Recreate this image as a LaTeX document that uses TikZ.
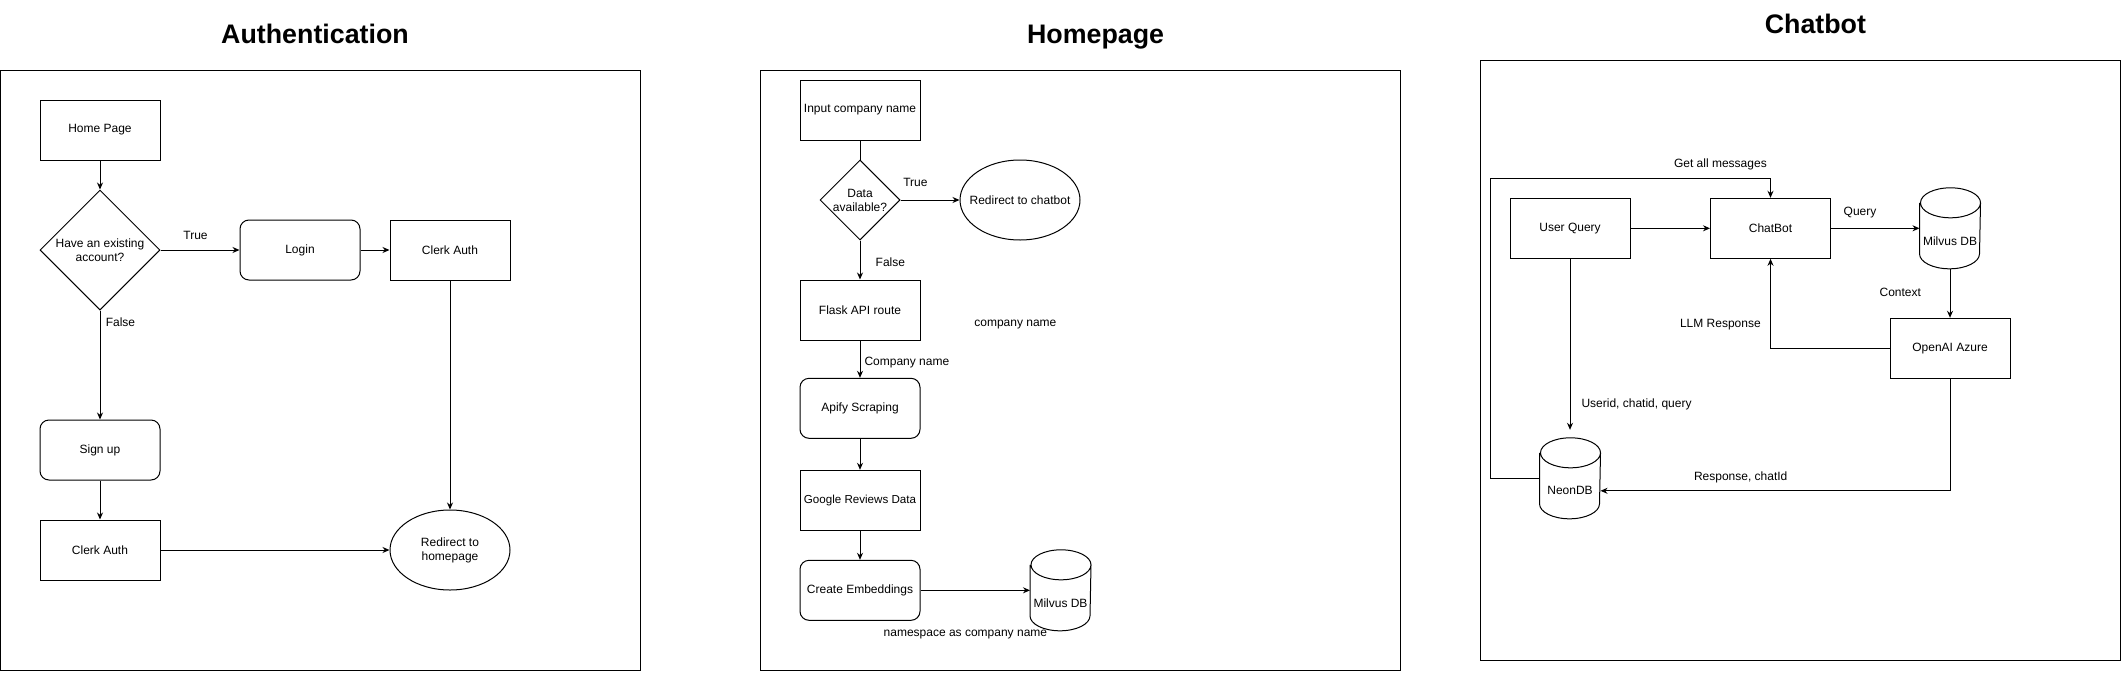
\documentclass[tikz,border=0pt]{standalone}
\usepackage{fontspec}
\setmainfont{Liberation Sans}
\usetikzlibrary{arrows.meta,shapes.geometric}
\newcommand\mydbcyl[3]{%
  \node[draw=none, rectangle, minimum width=60pt, minimum height=80pt, inner sep=0pt] (#1) at (#2) {};
  \draw ([yshift=-15pt]#1.north west) -- ([yshift=15pt]#1.south west)
    arc[start angle=180,end angle=360,x radius=30pt,y radius=15pt]
    -- ([yshift=-15pt]#1.north east)
    arc[start angle=0,end angle=180,x radius=30pt,y radius=15pt]
    arc[start angle=180,end angle=360,x radius=30pt,y radius=15pt];
  \node[inner sep=0pt] (#1T) at ([yshift=-12.5pt]#1.center) {#3};
}
\begin{document}
\begin{tikzpicture}[x=1pt,y=-1pt,line width=1pt,
  font=\fontsize{12}{14}\selectfont,
  box/.style={draw, rectangle, minimum width=120pt, minimum height=60pt, inner sep=0pt, align=center},
  rbox/.style={box, rounded corners=9pt},
  dia/.style={draw, diamond, inner sep=0pt, minimum width=#1, minimum height=#1},
  ell/.style={draw, ellipse, inner sep=0pt, minimum width=120pt, minimum height=80pt},
  arr/.style={-{Stealth[length=7pt,width=6pt]}},
  lbl/.style={inner sep=0pt},
  ttl/.style={font=\fontsize{26.8}{32}\selectfont\bfseries, anchor=base},
  panel/.style={draw, rectangle, inner sep=0pt}]
\useasboundingbox (0,0) rectangle (2122,672);

% ---------------- Authentication ----------------
\node[ttl] (tauth) at (315,43.3) {Authentication};
\node[panel, minimum width=640.1pt, minimum height=600pt] (authpanel) at (320.55,370) {};

\node[box] (home) at (100,130) {Home Page};
\node[dia=120pt, label={[align=center]center:{Have an existing\\account?}}] (acct) at (100,250) {};
\node[rbox] (login) at (300,250) {Login};
\node[box] (clerk1) at (450,250) {Clerk Auth};
\node[rbox] (signup) at (100,450) {Sign up};
\node[box] (clerk2) at (100,550) {Clerk Auth};
\node[ell, label={[align=center]center:{Redirect to\\homepage}}] (redir1) at (450,550) {};

\draw[arr] (home.south) -- (acct.north);
\draw[arr] (acct.east) -- (login.west);
\draw[arr] (login.east) -- (clerk1.west);
\draw[arr] (acct.south) -- (signup.north);
\draw[arr] (signup.south) -- (clerk2.north);
\draw[arr] (clerk2.east) -- (redir1.west);
\draw[arr] (clerk1.south) -- (redir1.north);

\node[lbl] (ltrue1) at (195.5,235) {True};
\node[lbl] (lfalse1) at (120.5,322.7) {False};

% ---------------- Homepage ----------------
\node[ttl] (thome) at (1095.6,43.3) {Homepage};
\node[panel, minimum width=640.7pt, minimum height=600pt] (homepanel) at (1080.35,370) {};

\node[box] (inp) at (860,110) {Input company name};
\node[dia=80pt, label={[align=center]center:{Data\\available?}}] (data) at (860,200) {};
\node[ell, label=center:{Redirect to chatbot}] (redir2) at (1020,200) {};
\node[box] (flask) at (860,310) {Flask API route};
\node[rbox] (apify) at (860,408.3) {Apify Scraping};
\node[box] (google) at (860,500.3) {\fontsize{11.6}{14}\selectfont Google Reviews Data};
\node[rbox] (embed) at (860,590.3) {Create Embeddings};
\mydbcyl{milvusa}{1060.5,590.3}{Milvus DB}

\draw (inp.south) -- (data.north);
\draw[arr] (data.east) -- (redir2.west);
\draw[arr] (data.south) -- (flask.north);
\draw[arr] (flask.south) -- (apify.north);
\draw[arr] (apify.south) -- (google.north);
\draw[arr] (google.south) -- (embed.north);
\draw[arr] (embed.east) -- (milvusa.west);

\node[lbl] (ltrue2) at (915.4,182.7) {True};
\node[lbl] (lfalse2) at (890.4,262.7) {False};
\node[lbl] (lcn) at (1015.4,325) {company name};
\node[lbl, anchor=west] (lcn2) at (864,362.7) {Company name};
\node[lbl] (lns) at (965.4,635) {namespace as company name};

% ---------------- Chatbot ----------------
\node[ttl] (tchat) at (1815.4,33.3) {Chatbot};
\node[panel, minimum width=640.3pt, minimum height=600pt] (chatpanel) at (1800.45,360.3) {};

\node[box] (uq) at (1570,228.3) {User Query};
\node[box] (cb) at (1770.5,228.3) {ChatBot};
\mydbcyl{milvusb}{1950,228.3}{Milvus DB}
\node[box] (oa) at (1950,348.3) {OpenAI Azure};
\mydbcyl{neon}{1570,478.3}{NeonDB}

\coordinate (loopA) at (1490.4,178.3);
\draw[arr] (neon.west) -| (loopA) -| (cb.north);
\draw[arr] (uq.east) -- (cb.west);
\draw[arr] (cb.east) -- (milvusb.west);
\draw[arr] (milvusb.south) -- (oa.north);
\draw[arr] (oa.west) -| (cb.south);
\draw[arr] (uq.south) -- ([yshift=8pt]neon.north);
\draw[arr] (oa.south) |- (neonT -| neon.east);

\node[lbl] (lgam) at (1720.4,164.3) {Get all messages};
\node[lbl] (lq) at (1860,212.7) {Query};
\node[lbl] (lctx) at (1900.3,292.3) {Context};
\node[lbl] (lllm) at (1720.4,324.3) {LLM Response};
\node[lbl, anchor=west] (luid) at (1581,404.7) {Userid, chatid, query};
\node[lbl] (lresp) at (1740.7,477) {Response, chatId};
\end{tikzpicture}
\end{document}
